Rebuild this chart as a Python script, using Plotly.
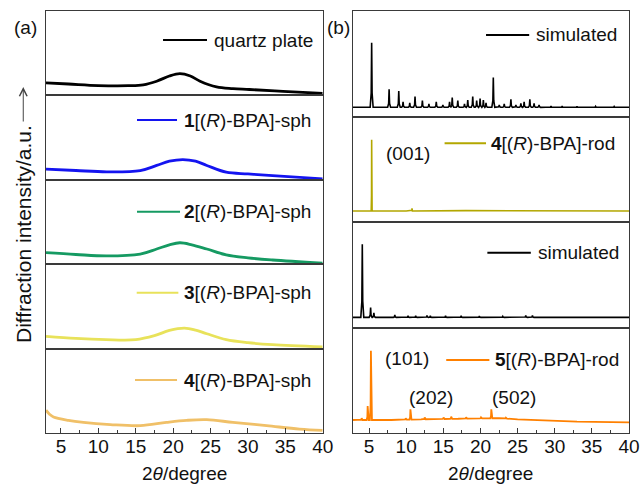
import numpy as np
import plotly.graph_objects as go

# ---------------- data ----------------
# Left column: amorphous humps (normalised intensity within each panel)
quartz_x = [3, 6, 10, 14, 16, 17.8, 19.5, 20.9, 22.3, 23.6, 25.8, 28, 30.2, 34.7, 40]
quartz_y = [0.148, 0.135, 0.117, 0.115, 0.125, 0.168, 0.23, 0.258, 0.23, 0.168, 0.10, 0.08, 0.07, 0.047, 0.023]

sph1_x = [3, 7, 11.1, 15.6, 17.8, 19.5, 21.3, 23, 24.5, 27.1, 30, 33.3, 40]
sph1_y = [0.126, 0.11, 0.095, 0.11, 0.17, 0.22, 0.24, 0.22, 0.17, 0.09, 0.07, 0.05, 0.012]

sph2_x = [3, 7, 11.1, 15.6, 17.8, 19.5, 20.9, 22.5, 24.5, 27.1, 30, 33.3, 40]
sph2_y = [0.137, 0.115, 0.098, 0.12, 0.18, 0.23, 0.254, 0.23, 0.18, 0.11, 0.075, 0.05, 0.012]

sph3_x = [3, 7, 11, 15, 17.5, 19.5, 21.5, 23, 24.5, 27.1, 30, 33.3, 40]
sph3_y = [0.145, 0.12, 0.106, 0.106, 0.153, 0.215, 0.243, 0.22, 0.176, 0.106, 0.07, 0.047, 0.02]

sph4_x = [3, 3.5, 4, 6, 8, 11.6, 15.6, 19.1, 21.8, 24.5, 28, 32.5, 36.9, 40]
sph4_y = [0.27, 0.22, 0.19, 0.15, 0.126, 0.10, 0.087, 0.126, 0.15, 0.158, 0.126, 0.087, 0.047, 0.032]

# Right column: crystalline patterns (peak positions / heights, baselines)
sim1_base_x = [2.8, 40]
sim1_base_y = [0.087, 0.087]
sim1_peak_x = [5.35, 7.70, 9.0, 9.58, 10.48, 11.19, 12.18, 13.06, 14.05, 14.94, 15.84, 16.2,
               16.95, 17.85, 18.29, 18.96, 19.49, 19.95, 20.39, 20.75, 21.73, 22.53, 23.2,
               24.1, 24.77, 25.44, 25.88, 26.65, 27.22, 27.89, 29.5, 31.0, 33.0, 35.5, 38.0]
sim1_peak_y = [0.70, 0.258, 0.242, 0.14, 0.13, 0.19, 0.15, 0.12, 0.14, 0.11, 0.14, 0.18,
               0.15, 0.12, 0.156, 0.19, 0.15, 0.17, 0.156, 0.13, 0.37, 0.11, 0.12,
               0.163, 0.11, 0.125, 0.14, 0.163, 0.125, 0.11, 0.10, 0.098, 0.097, 0.096, 0.095]

rod4_base_x = [2.8, 10, 18, 25, 40]
rod4_base_y = [0.104, 0.104, 0.108, 0.106, 0.104]
rod4_peak_x = [5.35, 10.78]
rod4_peak_y = [0.78, 0.13]

sim2_base_x = [2.8, 40]
sim2_base_y = [0.096, 0.096]
sim2_peak_x = [4.09, 5.21, 5.65, 8.47, 10.25, 11.28, 12.8, 13.25, 15.3, 17.4, 19.85, 23.0, 26.1, 27.0]
sim2_peak_y = [0.79, 0.19, 0.14, 0.118, 0.11, 0.11, 0.113, 0.11, 0.11, 0.11, 0.107, 0.105, 0.115, 0.115]

rod5_base_x = [2.8, 8, 12, 17, 20, 22.5, 25, 28, 33, 40]
rod5_base_y = [0.123, 0.123, 0.13, 0.135, 0.139, 0.14, 0.13, 0.12, 0.107, 0.10]
rod5_peak_x = [4.0, 4.81, 5.25, 9.94, 10.57, 12.49, 15.03, 16.06, 18.07, 20.08, 21.46, 23.43, 27.0]
rod5_peak_y = [0.14, 0.256, 0.78, 0.14, 0.224, 0.148, 0.148, 0.155, 0.148, 0.148, 0.224, 0.145, 0.125]

x_tick_vals = [5, 10, 15, 20, 25, 30, 35, 40]
x_tick_text = ["5", "10", "15", "20", "25", "30", "35", "40"]

labels_left = ["quartz plate",
               "<b>1</b>[(<i>R</i>)-BPA]-sph",
               "<b>2</b>[(<i>R</i>)-BPA]-sph",
               "<b>3</b>[(<i>R</i>)-BPA]-sph",
               "<b>4</b>[(<i>R</i>)-BPA]-sph"]
labels_right = ["simulated",
                "<b>4</b>[(<i>R</i>)-BPA]-rod",
                "simulated",
                "<b>5</b>[(<i>R</i>)-BPA]-rod"]

colors_left = ["#000000", "#1414F0", "#159A62", "#E8E25A", "#F0C068"]
colors_right = ["#000000", "#B3A700", "#000000", "#FF8000"]


def peak_line(base_x, base_y, peak_x, peak_y, hw):
    """Build a line from read peak tops with a narrow foot on both sides."""
    xs = list(base_x)
    ys = list(base_y)
    for p, h in zip(peak_x, peak_y):
        b = float(np.interp(p, base_x, base_y))
        for dx, f in [(-hw, 0.0), (-hw * 0.3, 0.22), (0.0, 1.0), (hw * 0.3, 0.22), (hw, 0.0)]:
            xs.append(p + dx)
            ys.append(b + f * (h - b))
    order = np.argsort(xs, kind="stable")
    return [xs[i] for i in order], [ys[i] for i in order]


FONT = "Liberation Sans, Arial, sans-serif"
AXC = "#3a3a3a"
TXT = "#111111"

fig = go.Figure()

left_data = [(quartz_x, quartz_y), (sph1_x, sph1_y), (sph2_x, sph2_y), (sph3_x, sph3_y), (sph4_x, sph4_y)]
for i, (xx, yy) in enumerate(left_data):
    n = i + 1
    fig.add_trace(go.Scatter(x=xx, y=yy, mode="lines", line=dict(color=colors_left[i], width=2.8, shape="spline", smoothing=1.0),
                             xaxis=f"x{n}", yaxis=f"y{n}", showlegend=False, hoverinfo="skip"))

right_sets = [
    (sim1_base_x, sim1_base_y, sim1_peak_x, sim1_peak_y, 0.2, 1.6),
    (rod4_base_x, rod4_base_y, rod4_peak_x, rod4_peak_y, 0.06, 1.6),
    (sim2_base_x, sim2_base_y, sim2_peak_x, sim2_peak_y, 0.2, 1.6),
    (rod5_base_x, rod5_base_y, rod5_peak_x, rod5_peak_y, 0.14, 1.8),
]
for j, (bx, by, px, py, hw, lw) in enumerate(right_sets):
    n = 6 + j
    xx, yy = peak_line(bx, by, px, py, hw)
    fig.add_trace(go.Scatter(x=xx, y=yy, mode="lines", line=dict(color=colors_right[j], width=lw),
                             xaxis=f"x{n}", yaxis=f"y{n}", showlegend=False, hoverinfo="skip"))

layout = dict(
    width=640, height=484, autosize=False,
    margin=dict(l=46, r=11, t=11, b=51, autoexpand=False),
    paper_bgcolor="white", plot_bgcolor="white",
    font=dict(family=FONT, size=19, color=TXT),
)

left_dom_x = [0.0, 0.4746]
right_dom_x = [0.5261, 1.0]
left_rows = [[0.8, 1.0], [0.6, 0.8], [0.4, 0.6], [0.2, 0.4], [0.0, 0.2]]
right_rows = [[0.75, 1.0], [0.5, 0.75], [0.25, 0.5], [0.0, 0.25]]


def xaxis_cfg(dom, rng, anchor, bottom):
    d = dict(domain=dom, range=rng, anchor=anchor, showline=True, mirror=True, linecolor=AXC, linewidth=1,
             showgrid=False, zeroline=False, fixedrange=True, automargin=False)
    if bottom:
        d.update(tickmode="array", tickvals=x_tick_vals, ticktext=x_tick_text, ticks="inside", ticklen=5,
                 tickcolor=AXC, tickwidth=1, showticklabels=True, tickfont=dict(size=19, family=FONT, color=TXT),
                 ticklabelstandoff=-4,
                 minor=dict(ticks="inside", ticklen=3, tickcolor=AXC, dtick=2.5, tick0=0, showgrid=False))
    else:
        d.update(ticks="", showticklabels=False)
    return d


def yaxis_cfg(dom, anchor):
    return dict(domain=dom, range=[0, 1], anchor=anchor, showline=True, mirror=True, linecolor=AXC, linewidth=1,
                showgrid=False, zeroline=False, ticks="", showticklabels=False, fixedrange=True, automargin=False)


for i in range(5):
    n = i + 1
    layout[f"xaxis{n}"] = xaxis_cfg(left_dom_x, [3, 40], f"y{n}", i == 4)
    layout[f"yaxis{n}"] = yaxis_cfg(left_rows[i], f"x{n}")
for j in range(4):
    n = 6 + j
    layout[f"xaxis{n}"] = xaxis_cfg(right_dom_x, [2.8, 40], f"y{n}", j == 3)
    layout[f"yaxis{n}"] = yaxis_cfg(right_rows[j], f"x{n}")

fig.update_layout(**layout)

# legend-like keys (line sample + text) inside each panel
left_keys = [  # (line x0, line x1, text x, y)
    (18.65, 24.53, 25.2, 0.656),
    (15.17, 20.52, 21.2, 0.708),
    (15.17, 20.92, 21.2, 0.622),
    (15.13, 20.70, 21.2, 0.662),
    (14.90, 20.52, 21.2, 0.628),
]
right_keys = [
    (20.75, 26.56, 27.2, 0.773),
    (15.17, 20.75, 21.1, 0.746),
    (20.93, 26.78, 27.5, 0.709),
    (15.39, 21.20, 21.7, 0.692),
]
shapes = []
annotations = []
for i, (x0, x1, tx, yy) in enumerate(left_keys):
    n = i + 1
    shapes.append(dict(type="line", xref=f"x{n}", yref=f"y{n}", x0=x0, x1=x1, y0=yy, y1=yy,
                       line=dict(color=colors_left[i], width=2)))
    annotations.append(dict(xref=f"x{n}", yref=f"y{n}", x=tx, y=yy, text=labels_left[i], showarrow=False,
                            xanchor="left", yanchor="middle", font=dict(size=19, family=FONT, color=TXT)))
for j, (x0, x1, tx, yy) in enumerate(right_keys):
    n = 6 + j
    shapes.append(dict(type="line", xref=f"x{n}", yref=f"y{n}", x0=x0, x1=x1, y0=yy, y1=yy,
                       line=dict(color=colors_right[j], width=2)))
    annotations.append(dict(xref=f"x{n}", yref=f"y{n}", x=tx, y=yy, text=labels_right[j], showarrow=False,
                            xanchor="left", yanchor="middle", font=dict(size=19, family=FONT, color=TXT)))

# Miller index labels
hkl = [("(001)", 7, 10.2, 0.651), ("(101)", 9, 10.14, 0.708), ("(202)", 9, 13.29, 0.338), ("(502)", 9, 24.55, 0.338)]
for t, n, xx, yy in hkl:
    annotations.append(dict(xref=f"x{n}", yref=f"y{n}", x=xx, y=yy, text=t, showarrow=False,
                            xanchor="center", yanchor="middle", font=dict(size=19, family=FONT, color=TXT)))

# panel letters, axis titles
annotations += [
    dict(xref="paper", yref="paper", x=-0.036, y=0.962, text="(a)", showarrow=False, xanchor="center", yanchor="middle",
         font=dict(size=19, family=FONT, color=TXT)),
    dict(xref="paper", yref="paper", x=0.5009, y=0.962, text="(b)", showarrow=False, xanchor="center", yanchor="middle",
         font=dict(size=19, family=FONT, color=TXT)),
    dict(xref="paper", yref="paper", x=0.237, y=-0.0948, text="2<i>θ</i>/degree", showarrow=False, xanchor="center",
         yanchor="middle", font=dict(size=19, family=FONT, color=TXT)),
    dict(xref="paper", yref="paper", x=0.763, y=-0.0948, text="2<i>θ</i>/degree", showarrow=False, xanchor="center",
         yanchor="middle", font=dict(size=19, family=FONT, color=TXT)),
    dict(xref="paper", yref="paper", x=-0.0377, y=0.4716, text="Diffraction intensity/a.u.", showarrow=False,
         textangle=-90, xanchor="center", yanchor="middle", font=dict(size=21, family=FONT, color=TXT)),
    dict(xref="paper", yref="paper", x=-0.039, y=(433 - 87) / 422, text="", showarrow=True, ax=0, ay=36,
         axref="pixel", ayref="pixel", arrowhead=5, arrowsize=1.5, arrowwidth=1, arrowcolor="#444444"),
]

fig.update_layout(shapes=shapes, annotations=annotations)
fig.write_html(
    "out.html",
    config={"displayModeBar": False, "responsive": False},
    post_script=("document.documentElement.style.overflow='hidden';"
                 "document.body.style.overflow='hidden';"
                 "document.body.style.margin='0';document.body.style.padding='0';"),
)
